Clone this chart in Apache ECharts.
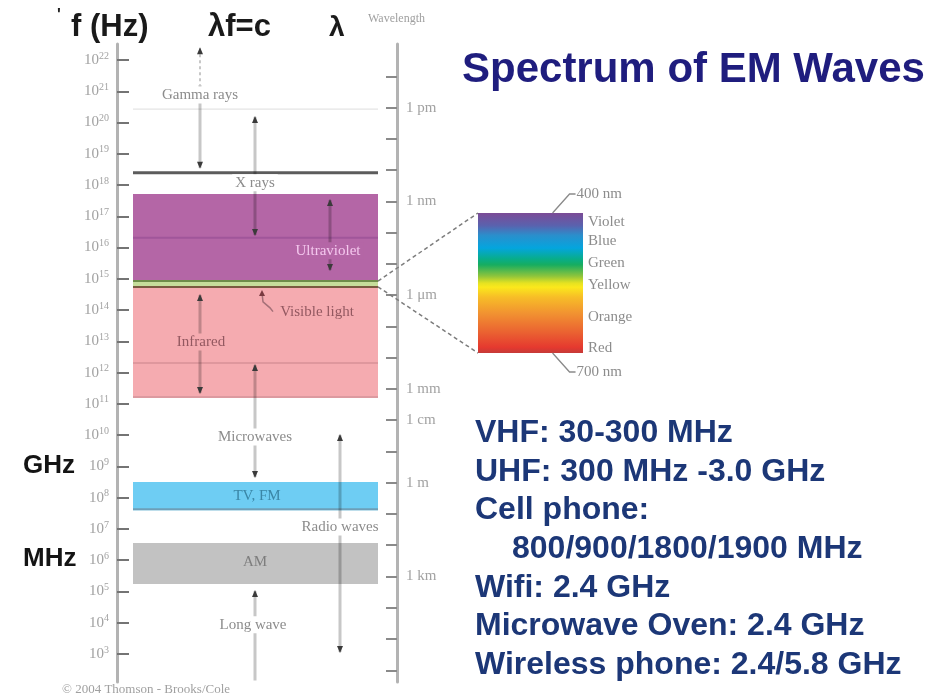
<!DOCTYPE html>
<html>
<head>
<meta charset="utf-8">
<script src="https://cdn.jsdelivr.net/npm/echarts@6/dist/echarts.min.js"></script>
<style>
html,body{margin:0;padding:0;background:#fff;}
#c{width:949px;height:697px;}
</style>
</head>
<body>
<div id="c"></div>
<script>
// ================= DATA =================
// frequency axis: log10(f / Hz)
const freqExponents = [22,21,20,19,18,17,16,15,14,13,12,11,10,9,8,7,6,5,4,3];
// wavelength axis: log10(lambda / m)
const wavelengthTickExps = [-13,-12,-11,-10,-9,-8,-7,-6,-5,-4,-3,-2,-1,0,1,2,3,4,5,6];
const wavelengthLabelExps = [-12,-9,-6,-3,-2,0,3];
const wavelengthLabelText = ['1 pm','1 nm','1 μm','1 mm','1 cm','1 m','1 km'];

const unitMarkNames = ['GHz','MHz'];
const unitMarkExps = [9,6];

// coloured bands (log10 Hz)
const bandNames   = ['Ultraviolet','Visible light','Infrared','TV, FM','AM'];
const bandLowExp  = [14.96, 14.71, 11.19, 7.60, 5.24];
const bandHighExp = [17.71, 14.96, 14.71, 8.50, 6.55];

// horizontal boundary lines (log10 Hz)
const edgeNames = ['Gamma edge','X-ray edge','UV mid','IR mid'];
const edgeExp   = [20.43, 18.39, 16.31, 12.31];

// range arrows (log10 Hz)
const rangeNames     = ['Gamma rays','X rays','Ultraviolet','Infrared','Microwaves','Long wave','Radio waves'];
const rangeTopExp    = [22.38, 20.18, 17.52, 14.48, 12.24, 5.01, 10.00];
const rangeBottomExp = [18.55, 16.40, 15.28, 11.35, 8.66, 2.15, 3.06];
const rangeHeadTop   = [true, true, true, true, true, true, true];
const rangeHeadBottom= [true, true, true, true, true, false, true];

// region labels
const regionLabels = ['Gamma rays','X rays','Ultraviolet','Visible light','Infrared','Microwaves','TV, FM','AM','Radio waves','Long wave'];

// visible spectrum inset (nm)
const spectrumNm     = [400, 427, 448, 475, 499, 511, 535, 550, 559, 580, 616, 658, 688, 700];
const spectrumColors = ['#7b4b96','#5a62ae','#2a8fcc','#04a5de','#08ad88','#17ad60','#8dc43c','#e4e221','#fbe81c','#f7be27','#f19131','#ea5f31','#e5392f','#c53a38'];
const colorNames   = ['Violet','Blue','Green','Yellow','Orange','Red'];
const colorNameNm  = [420, 460, 507, 555, 622, 690];
const spectrumEndNm     = [400, 700];
const spectrumEndLabels = ['400 nm','700 nm'];

const notes = ['VHF: 30-300 MHz','UHF: 300 MHz -3.0 GHz','Cell phone:','800/900/1800/1900 MHz','Wifi: 2.4 GHz','Microwave Oven: 2.4 GHz','Wireless phone: 2.4/5.8 GHz'];

// ================= LAYOUT / STYLE =================
const SERIF = '"Liberation Serif","Times New Roman",serif';
const SANS  = '"Liberation Sans",Arial,sans-serif';
const GRAY = '#8c8c8c';
const E_TOP = 22.512, E_BOT = 2.102;
const LOG_C = Math.log10(2.998e8);
const BX0 = 16, BX1 = 261;

const BAND_STYLE = {
  'Ultraviolet':   {fill:'#b466a6'},
  'Visible light': {fill:'#c6dd9b', top:'#6e8c4a', bottom:'#7a5a40'},
  'Infrared':      {fill:'#f5abb0', bottom:'#dc9aa0'},
  'TV, FM':        {fill:'#6ecdf3', bottom:'#6d9fb8'},
  'AM':            {fill:'#c2c2c2'}
};
const EDGE_STYLE = {
  'Gamma edge': {color:'#dddddd', width:1},
  'X-ray edge': {color:'#5c5c5c', width:3},
  'UV mid':     {color:'#a0569a', width:2},
  'IR mid':     {color:'#df979d', width:2}
};
const RANGE_COL = {
  'Gamma rays':83, 'X rays':138, 'Ultraviolet':213, 'Infrared':83,
  'Microwaves':138, 'Long wave':138, 'Radio waves':223
};
const LABEL_LAYOUT = {
  'Gamma rays':   {x:83,  e:20.88, bg:'#ffffff', color:GRAY},
  'X rays':       {x:138, e:18.07, bg:'#ffffff', color:GRAY},
  'Ultraviolet':  {x:211, e:15.90, bg:'#b466a6', color:'#f4c8ee'},
  'Visible light':{x:200, e:13.95, color:'#935860'},
  'Infrared':     {x:84,  e:12.98, bg:'#f5abb0', color:'#935860'},
  'Microwaves':   {x:138, e:9.94,  bg:'#ffffff', color:GRAY},
  'TV, FM':       {x:140, e:8.05,  color:'#3a86a6'},
  'AM':           {x:138, e:5.94,  color:'#7d7d7d'},
  'Radio waves':  {x:223, e:7.06,  bg:'#ffffff', color:GRAY},
  'Long wave':    {x:136, e:3.93,  bg:'#ffffff', color:GRAY}
};

function idx(arr){ return arr.map((_, i) => [i]); }

const chart = echarts.init(document.getElementById('c'));

const option = {
  animation: false,
  backgroundColor: '#ffffff',
  grid: [
    {left:117, right:552, top:44, bottom:15},
    {left:478, top:213, width:105, height:140}
  ],
  xAxis: [
    {gridIndex:0, type:'value', min:0, max:280, show:false},
    {gridIndex:1, type:'value', min:0, max:1, show:false}
  ],
  yAxis: [
    {
      gridIndex:0, type:'value', min:E_BOT, max:E_TOP, position:'left',
      axisLine:{show:true, onZero:false, lineStyle:{color:'#b3b3b3', width:3}},
      axisTick:{show:true, inside:true, length:12, customValues:freqExponents, lineStyle:{color:'#747474', width:2}},
      axisLabel:{
        show:true, margin:8, customValues:freqExponents,
        formatter: v => '{b|10}{s|' + Math.round(v) + '}',
        rich:{
          b:{fontFamily:SERIF, fontSize:15, color:'#a2a2a2', lineHeight:18, verticalAlign:'middle'},
          s:{fontFamily:SERIF, fontSize:10, color:'#a2a2a2', lineHeight:10, verticalAlign:'top'}
        }
      },
      splitLine:{show:false}
    },
    {
      gridIndex:0, type:'value', min:LOG_C - E_TOP, max:LOG_C - E_BOT, inverse:true, position:'right',
      axisLine:{show:true, onZero:false, lineStyle:{color:'#b3b3b3', width:3}},
      axisTick:{show:true, inside:true, length:11, customValues:wavelengthTickExps, lineStyle:{color:'#8a8a8a', width:2}},
      axisLabel:{
        show:true, margin:9, customValues:wavelengthLabelExps,
        formatter: v => { const k = wavelengthLabelExps.indexOf(Math.round(v)); return k >= 0 ? wavelengthLabelText[k] : ''; },
        fontFamily:SERIF, fontSize:15, color:'#a2a2a2'
      },
      splitLine:{show:false}
    },
    {gridIndex:1, type:'value', min:400, max:700, inverse:true, show:false}
  ],
  series: [
    // bands
    {
      type:'custom', xAxisIndex:0, yAxisIndex:0, z:1, silent:true, data: idx(bandNames),
      renderItem(params, api){
        const i = params.dataIndex;
        const p0 = api.coord([BX0, bandHighExp[i]]);
        const p1 = api.coord([BX1, bandLowExp[i]]);
        const st = BAND_STYLE[bandNames[i]];
        const ch = [{type:'rect', shape:{x:p0[0], y:p0[1], width:p1[0]-p0[0], height:p1[1]-p0[1]}, style:{fill:st.fill}}];
        if (st.top) ch.push({type:'line', shape:{x1:p0[0], y1:p0[1]+1, x2:p1[0], y2:p0[1]+1}, style:{stroke:st.top, lineWidth:2}});
        if (st.bottom) ch.push({type:'line', shape:{x1:p0[0], y1:p1[1]-1, x2:p1[0], y2:p1[1]-1}, style:{stroke:st.bottom, lineWidth:2}});
        return {type:'group', children:ch};
      }
    },
    // boundary lines
    {
      type:'custom', xAxisIndex:0, yAxisIndex:0, z:2, silent:true, data: idx(edgeNames),
      renderItem(params, api){
        const i = params.dataIndex;
        const a = api.coord([BX0, edgeExp[i]]);
        const b = api.coord([BX1, edgeExp[i]]);
        const st = EDGE_STYLE[edgeNames[i]];
        return {type:'line', shape:{x1:a[0], y1:a[1], x2:b[0], y2:b[1]}, style:{stroke:st.color, lineWidth:st.width}};
      }
    },
    // range arrows
    {
      type:'custom', xAxisIndex:0, yAxisIndex:0, z:3, silent:true, data: idx(rangeNames),
      renderItem(params, api){
        const i = params.dataIndex;
        const col = RANGE_COL[rangeNames[i]];
        const a = api.coord([col, rangeTopExp[i]]);
        const b = api.coord([col, rangeBottomExp[i]]);
        const ch = [];
        if (rangeNames[i] === 'Gamma rays') {
          const m = api.coord([col, 21.2]);
          ch.push({type:'line', shape:{x1:a[0], y1:a[1], x2:m[0], y2:m[1]}, style:{stroke:'rgba(0,0,0,0.22)', lineWidth:2, lineDash:[3,3]}});
          ch.push({type:'line', shape:{x1:m[0], y1:m[1], x2:b[0], y2:b[1]}, style:{stroke:'rgba(0,0,0,0.22)', lineWidth:3}});
        } else {
          ch.push({type:'line', shape:{x1:a[0], y1:a[1], x2:b[0], y2:b[1]}, style:{stroke:'rgba(0,0,0,0.22)', lineWidth:3}});
        }
        if (rangeHeadTop[i]) ch.push({type:'polygon', shape:{points:[[a[0], a[1]-1],[a[0]-3, a[1]+6],[a[0]+3, a[1]+6]]}, style:{fill:'#3a3a3a'}});
        if (rangeHeadBottom[i]) ch.push({type:'polygon', shape:{points:[[b[0], b[1]+1],[b[0]-3, b[1]-6],[b[0]+3, b[1]-6]]}, style:{fill:'#3a3a3a'}});
        return {type:'group', children:ch};
      }
    },
    // region labels
    {
      type:'custom', xAxisIndex:0, yAxisIndex:0, z:4, silent:true, data: idx(regionLabels),
      renderItem(params, api){
        const name = regionLabels[params.dataIndex];
        const L = LABEL_LAYOUT[name];
        const p = api.coord([L.x, L.e]);
        const ch = [{
          type:'text', x:p[0], y:p[1],
          style:{text:name, fill:L.color, font:'15px ' + SERIF, align:'center', verticalAlign:'middle',
                 backgroundColor:L.bg || 'transparent', padding:[1,3]}
        }];
        if (name === 'Visible light') {
          const s = api.coord([145, bandLowExp[1]]);
          ch.push({type:'polyline', shape:{points:[[s[0], s[1]+5],[s[0]+1, s[1]+14],[s[0]+8, s[1]+20],[p[0]-44, p[1]]]},
                   style:{stroke:'#a57078', lineWidth:1.5, fill:null}});
          ch.push({type:'polygon', shape:{points:[[s[0], s[1]+2],[s[0]-3, s[1]+8],[s[0]+3, s[1]+8]]}, style:{fill:'#7a3a40'}});
        }
        return {type:'group', children:ch};
      }
    },
    // visible spectrum rectangle
    {
      type:'custom', xAxisIndex:1, yAxisIndex:2, z:2, silent:true, data:[[0]],
      renderItem(params, api){
        const a = api.coord([0, spectrumNm[0]]);
        const b = api.coord([1, spectrumNm[spectrumNm.length-1]]);
        const stops = spectrumNm.map((nm, k) => ({offset:(nm - spectrumNm[0]) / (spectrumNm[spectrumNm.length-1] - spectrumNm[0]), color:spectrumColors[k]}));
        return {type:'rect', shape:{x:a[0], y:a[1], width:b[0]-a[0], height:b[1]-a[1]},
                style:{fill:{type:'linear', x:0, y:0, x2:0, y2:1, colorStops:stops}}};
      }
    },
    // spectrum colour names
    {
      type:'custom', xAxisIndex:1, yAxisIndex:2, z:3, silent:true, data: idx(colorNames),
      renderItem(params, api){
        const i = params.dataIndex;
        const p = api.coord([1, colorNameNm[i]]);
        return {type:'text', x:p[0]+5, y:p[1], style:{text:colorNames[i], fill:GRAY, font:'15px ' + SERIF, align:'left', verticalAlign:'middle'}};
      }
    },
    // spectrum end labels
    {
      type:'custom', xAxisIndex:1, yAxisIndex:2, z:3, silent:true, data: idx(spectrumEndLabels),
      renderItem(params, api){
        const i = params.dataIndex;
        const p = api.coord([0.71, spectrumEndNm[i]]);
        const dir = i === 0 ? -1 : 1;
        const q = [p[0]+17, p[1] + dir*19];
        return {type:'group', children:[
          {type:'polyline', shape:{points:[p, q, [q[0]+6, q[1]]]}, style:{stroke:'#8a8a8a', lineWidth:1.3, fill:null}},
          {type:'text', x:q[0]+7, y:q[1], style:{text:spectrumEndLabels[i], fill:GRAY, font:'15px ' + SERIF, align:'left', verticalAlign:'middle'}}
        ]};
      }
    }
  ],
  graphic: [
    {type:'text', id:'tick', x:57, y:16, style:{text:'\'', fill:'#222', font:'bold 16px ' + SANS, verticalAlign:'middle'}},
    {type:'text', id:'fhz', x:71, y:27, style:{text:'f (Hz)', fill:'#1a1a1a', font:'bold 31px ' + SANS, verticalAlign:'middle'}},
    {type:'text', id:'lfc', x:208, y:27, style:{text:'λf=c', fill:'#1a1a1a', font:'bold 31px ' + SANS, verticalAlign:'middle'}},
    {type:'text', id:'lam', x:329, y:28, style:{text:'λ', fill:'#1a1a1a', font:'bold 28px ' + SANS, verticalAlign:'middle'}},
    {type:'text', id:'wl', x:368, y:19, style:{text:'Wavelength', fill:'#a0a0a0', font:'12px ' + SERIF, verticalAlign:'middle'}},
    {type:'text', id:'title', x:462, y:70, style:{text:'Spectrum of EM Waves', fill:'#1f1d7e', font:'bold 42px ' + SANS, verticalAlign:'middle'}},
    {type:'text', id:'credit', x:62, y:690, style:{text:'© 2004 Thomson - Brooks/Cole', fill:'#a0a0a0', font:'13px ' + SERIF, verticalAlign:'middle'}}
  ].concat(notes.map((t, i) => ({
    type:'text', id:'note' + i, x: i === 3 ? 512 : 475, y: 433 + i * 38.7,
    style:{text:t, fill:'#1c3777', font:'bold 32px ' + SANS, verticalAlign:'middle'}
  })))
};

chart.setOption(option);

// unit marks next to the frequency axis and zoom lines to the inset, placed through the axes
const extra = [];
unitMarkNames.forEach((n, i) => {
  const p = chart.convertToPixel({xAxisIndex:0, yAxisIndex:0}, [0, unitMarkExps[i]]);
  extra.push({type:'text', id:'unit' + i, x:23, y:p[1] - 1, style:{text:n, fill:'#141414', font:'bold 26px ' + SANS, verticalAlign:'middle'}});
});
const vis = bandNames.indexOf('Visible light');
const pA = chart.convertToPixel({xAxisIndex:0, yAxisIndex:0}, [BX1, bandHighExp[vis]]);
const pB = chart.convertToPixel({xAxisIndex:0, yAxisIndex:0}, [BX1, bandLowExp[vis]]);
const qA = chart.convertToPixel({xAxisIndex:1, yAxisIndex:2}, [0, spectrumEndNm[0]]);
const qB = chart.convertToPixel({xAxisIndex:1, yAxisIndex:2}, [0, spectrumEndNm[1]]);
extra.push({type:'line', id:'zA', z:10, shape:{x1:pA[0], y1:pA[1]+1, x2:qA[0], y2:qA[1]}, style:{stroke:'#7d7d7d', lineWidth:1.5, lineDash:[4,3]}});
extra.push({type:'line', id:'zB', z:10, shape:{x1:pB[0], y1:pB[1]-1, x2:qB[0], y2:qB[1]}, style:{stroke:'#7d7d7d', lineWidth:1.5, lineDash:[4,3]}});
chart.setOption({graphic: extra});
</script>
</body>
</html>
